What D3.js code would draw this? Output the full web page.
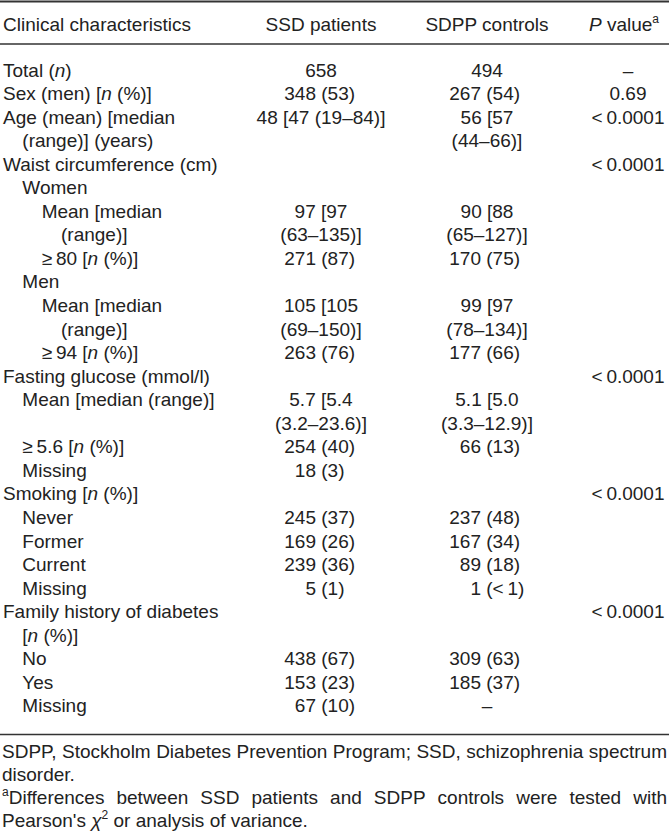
<!DOCTYPE html>
<html>
<head>
<meta charset="utf-8">
<script src="https://cdn.jsdelivr.net/npm/d3@7"></script>
<style>
    body { margin: 0; background: #fff; }
    text { font-family: "Liberation Sans", Arial, sans-serif; fill: #222; }
</style>
</head>
<body>
<div id="TableChart"></div>
<script>
const width = 669, height = 834;

// markup: _x_ = italic, ^x^ = superscript
const headers = ["Clinical characteristics", "SSD patients", "SDPP controls", "_P_ value^a^"];

// one entry per printed line, wrapped lines kept as printed
const labels = [
    "Total (_n_)", "Sex (men) [_n_ (%)]", "Age (mean) [median", "(range)] (years)",
    "Waist circumference (cm)", "Women", "Mean [median", "(range)]", "\u2265\u200980 [_n_ (%)]",
    "Men", "Mean [median", "(range)]", "\u2265\u200994 [_n_ (%)]",
    "Fasting glucose (mmol/l)", "Mean [median (range)]", "", "\u2265\u20095.6 [_n_ (%)]", "Missing",
    "Smoking [_n_ (%)]", "Never", "Former", "Current", "Missing",
    "Family history of diabetes", "[_n_ (%)]", "No", "Yes", "Missing"
];
const indents = [0, 0, 0, 1, 0, 1, 2, 3, 2, 1, 2, 3, 2, 0, 1, 1, 1, 1, 0, 1, 1, 1, 1, 0, 1, 1, 1, 1];

const ssd = [
    "658", "348 (53)", "48 [47 (19\u201384)]", "",
    "", "", "97 [97", "(63\u2013135)]", "271 (87)",
    "", "105 [105", "(69\u2013150)]", "263 (76)",
    "", "5.7 [5.4", "(3.2\u201323.6)]", "254 (40)", "18 (3)",
    "", "245 (37)", "169 (26)", "239 (36)", "5 (1)",
    "", "", "438 (67)", "153 (23)", "67 (10)"
];
const sdpp = [
    "494", "267 (54)", "56 [57", "(44\u201366)]",
    "", "", "90 [88", "(65\u2013127)]", "170 (75)",
    "", "99 [97", "(78\u2013134)]", "177 (66)",
    "", "5.1 [5.0", "(3.3\u201312.9)]", "66 (13)", "",
    "", "237 (48)", "167 (34)", "89 (18)", "1 (<\u20091)",
    "", "", "309 (63)", "185 (37)", "\u2013"
];
const pValues = [
    "\u2013", "0.69", "<\u20090.0001", "",
    "<\u20090.0001", "", "", "", "",
    "", "", "", "",
    "<\u20090.0001", "", "", "", "",
    "<\u20090.0001", "", "", "", "",
    "<\u20090.0001", "", "", "", ""
];

const footnotes = [
    "SDPP, Stockholm Diabetes Prevention Program; SSD, schizophrenia spectrum",
    "disorder.",
    "^a^Differences between SSD patients and SDPP controls were tested with",
    "Pearson's _\u03c7_^2^ or analysis of variance."
];
const justified = [true, false, true, false];

const fontSize = 19, noteSize = 19;

var svg = d3.select("#TableChart")
    .append("svg")
    .attr("width", width)
    .attr("height", height);

var yRow = d3.scaleLinear()
    .domain([0, labels.length - 1])
    .range([76.5, 76.5 + 27 * 23.55]);

var xCol = d3.scaleOrdinal()
    .domain(["label", "ssd", "sdpp", "p"])
    .range([3, 321, 487, 628]);

// right edge of the count for "n (%)" cells
var xCount = d3.scaleOrdinal()
    .domain(["ssd", "sdpp"])
    .range([316, 481]);

var xIndent = d3.scaleLinear().domain([0, 3]).range([3, 61]);

var yNote = d3.scaleLinear().domain([0, 3]).range([758, 827]);

function rich(sel, str, size) {
    var parts = str.split(/(_[^_]+_|\^[^^]+\^)/).filter(function (p) { return p !== ""; });
    var raised = false;
    parts.forEach(function (p) {
        var t = sel.append("tspan");
        if (p[0] == "_") {
            t.text(p.slice(1, -1)).style("font-style", "italic");
        } else if (p[0] == "^") {
            t.text(p.slice(1, -1))
                .style("font-size", Math.round(size * 0.62) + "px")
                .attr("dy", -size * 0.4);
            raised = true;
            return;
        } else {
            t.text(p);
        }
        if (raised) { t.attr("dy", size * 0.4); raised = false; }
    });
}

// rules
svg.selectAll("line.rule")
    .data([[1.5, 2], [44, 1.5], [734.5, 1.5]])
    .enter()
    .append("line")
    .attr("class", "rule")
    .attr("x1", 0)
    .attr("x2", width)
    .attr("y1", function (d) { return d[0]; })
    .attr("y2", function (d) { return d[0]; })
    .attr("stroke", "#333")
    .attr("stroke-width", function (d) { return d[1]; });

// header
var cols = ["label", "ssd", "sdpp", "p"];
svg.selectAll("text.header")
    .data(headers)
    .enter()
    .append("text")
    .attr("class", "header")
    .attr("x", function (d, i) { return i == 0 ? xCol("label") : (i == 3 ? 624 : xCol(cols[i])); })
    .attr("y", 30.5)
    .attr("text-anchor", function (d, i) { return i == 0 ? "start" : "middle"; })
    .style("font-size", fontSize + "px")
    .each(function (d) { rich(d3.select(this), d, fontSize); });

// label column
svg.selectAll("text.label")
    .data(labels)
    .enter()
    .append("text")
    .attr("class", "label")
    .attr("x", function (d, i) { return xIndent(indents[i]); })
    .attr("y", function (d, i) { return yRow(i); })
    .style("font-size", fontSize + "px")
    .each(function (d) { rich(d3.select(this), d, fontSize); });

// value columns
function drawColumn(values, key) {
    var g = svg.append("g").attr("class", "col_" + key);
    values.forEach(function (v, i) {
        if (v === "") return;
        var m = v.match(/^(\d+) (\(.*\))$/);
        if (m && key != "p") {
            g.append("text")
                .attr("x", xCount(key))
                .attr("y", yRow(i))
                .attr("text-anchor", "end")
                .style("font-size", fontSize + "px")
                .text(m[1]);
            g.append("text")
                .attr("x", xCount(key) + fontSize * 0.278)
                .attr("y", yRow(i))
                .style("font-size", fontSize + "px")
                .text(m[2]);
        } else {
            g.append("text")
                .attr("x", xCol(key))
                .attr("y", yRow(i))
                .attr("text-anchor", "middle")
                .style("font-size", fontSize + "px")
                .text(v);
        }
    });
}
drawColumn(ssd, "ssd");
drawColumn(sdpp, "sdpp");
drawColumn(pValues, "p");

// footnotes, justified like the print
var left = 2, right = 667;
footnotes.forEach(function (line, li) {
    var words = line.split(" ");
    var g = svg.append("g").attr("class", "note");
    var nodes = words.map(function (w) {
        var t = g.append("text")
            .attr("y", yNote(li))
            .style("font-size", noteSize + "px");
        rich(t, w, noteSize);
        return t;
    });
    var lens = nodes.map(function (t) { return t.node().getComputedTextLength(); });
    var gap = justified[li] && words.length > 1
        ? (right - left - d3.sum(lens)) / (words.length - 1)
        : noteSize * 0.278;
    var x = left;
    nodes.forEach(function (t, i) {
        t.attr("x", x);
        x += lens[i] + gap;
    });
});
</script>
</body>
</html>
